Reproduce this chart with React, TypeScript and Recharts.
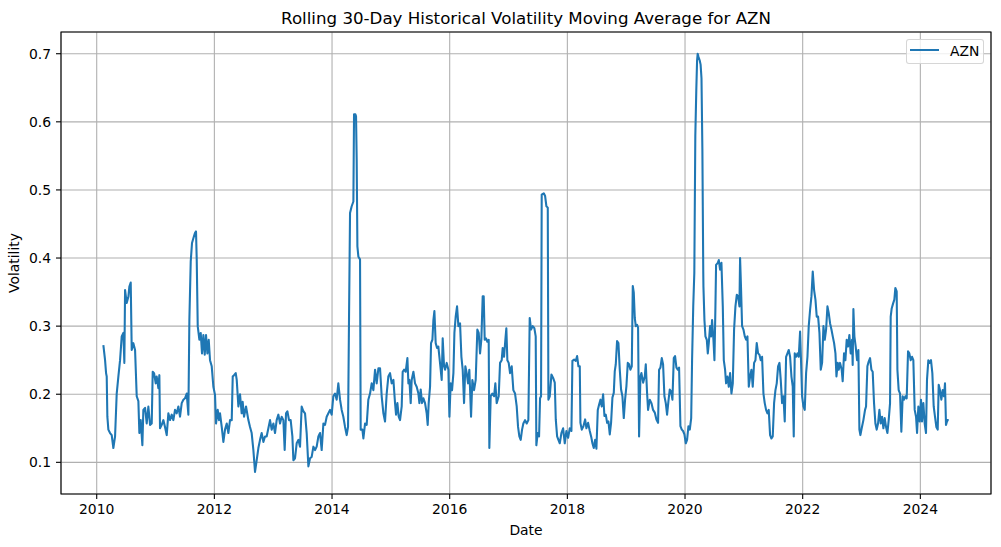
import { LineChart, Line, XAxis, YAxis, CartesianGrid, Legend, ReferenceArea, Label } from "recharts";

const FONT = "DejaVu Sans";
const BLUE = "#1f77b4";

const TITLE = "Rolling 30-Day Historical Volatility Moving Average for AZN";
const SERIES = "AZN";
const X_LABEL = "Date";
const Y_LABEL = "Volatility";

const YEAR_TICKS = [2010, 2012, 2014, 2016, 2018, 2020, 2022, 2024];
const VOL_TICKS = [0.1, 0.2, 0.3, 0.4, 0.5, 0.6, 0.7];
const X_DOMAIN: [number, number] = [2009.393, 2025.201];
const Y_DOMAIN: [number, number] = [0.0535, 0.7319];

// [decimal year, volatility]
const Y2010 = [
  [2010.113, 0.272], [2010.142, 0.25], [2010.159, 0.231], [2010.17, 0.226], [2010.181, 0.167], [2010.198, 0.148],
  [2010.227, 0.143], [2010.255, 0.14], [2010.283, 0.121], [2010.312, 0.138], [2010.34, 0.201], [2010.368, 0.226],
  [2010.397, 0.25], [2010.425, 0.285], [2010.453, 0.29], [2010.47, 0.246], [2010.482, 0.353], [2010.51, 0.334],
  [2010.538, 0.343], [2010.555, 0.358], [2010.578, 0.364], [2010.595, 0.265], [2010.623, 0.275], [2010.652, 0.265],
  [2010.68, 0.197], [2010.708, 0.19], [2010.725, 0.143], [2010.748, 0.162], [2010.776, 0.125], [2010.793, 0.177],
  [2010.822, 0.18], [2010.85, 0.157], [2010.878, 0.182], [2010.907, 0.155], [2010.935, 0.157], [2010.952, 0.233],
  [2010.975, 0.231],
];
const Y2011 = [
  [2011.003, 0.216], [2011.02, 0.226], [2011.048, 0.209], [2011.065, 0.228], [2011.076, 0.15], [2011.105, 0.155],
  [2011.133, 0.162], [2011.161, 0.152], [2011.19, 0.14], [2011.218, 0.172], [2011.246, 0.162], [2011.275, 0.17],
  [2011.303, 0.162], [2011.331, 0.177], [2011.36, 0.172], [2011.388, 0.182], [2011.416, 0.167], [2011.445, 0.187],
  [2011.473, 0.192], [2011.501, 0.194], [2011.53, 0.201], [2011.558, 0.17], [2011.575, 0.309], [2011.598, 0.395],
  [2011.62, 0.422], [2011.643, 0.429], [2011.671, 0.437], [2011.688, 0.439], [2011.7, 0.398], [2011.717, 0.3],
  [2011.745, 0.28], [2011.768, 0.29], [2011.79, 0.26], [2011.813, 0.287], [2011.836, 0.258], [2011.858, 0.287],
  [2011.881, 0.26], [2011.904, 0.28], [2011.926, 0.25], [2011.955, 0.241], [2011.983, 0.211],
];
const Y2012 = [
  [2012.011, 0.199], [2012.028, 0.157], [2012.057, 0.177], [2012.079, 0.162], [2012.096, 0.172], [2012.125, 0.152],
  [2012.153, 0.13], [2012.181, 0.148], [2012.21, 0.157], [2012.238, 0.143], [2012.266, 0.162], [2012.295, 0.162],
  [2012.312, 0.226], [2012.334, 0.228], [2012.363, 0.231], [2012.38, 0.221], [2012.408, 0.182], [2012.436, 0.2],
  [2012.464, 0.172], [2012.481, 0.189], [2012.504, 0.167], [2012.538, 0.182], [2012.578, 0.162], [2012.606, 0.152],
  [2012.634, 0.143], [2012.663, 0.118], [2012.691, 0.086], [2012.719, 0.103], [2012.748, 0.121], [2012.776, 0.133],
  [2012.804, 0.143], [2012.833, 0.13], [2012.861, 0.138], [2012.889, 0.138], [2012.918, 0.15], [2012.946, 0.162],
  [2012.974, 0.148],
];
const Y2013 = [
  [2013.003, 0.157], [2013.031, 0.143], [2013.059, 0.162], [2013.088, 0.17], [2013.116, 0.157], [2013.144, 0.167],
  [2013.173, 0.162], [2013.195, 0.118], [2013.218, 0.172], [2013.241, 0.175], [2013.269, 0.162], [2013.297, 0.162],
  [2013.326, 0.138], [2013.343, 0.103], [2013.371, 0.106], [2013.399, 0.128], [2013.428, 0.133], [2013.456, 0.123],
  [2013.484, 0.182], [2013.513, 0.175], [2013.541, 0.172], [2013.569, 0.143], [2013.598, 0.094], [2013.626, 0.106],
  [2013.654, 0.108], [2013.683, 0.123], [2013.711, 0.118], [2013.739, 0.123], [2013.768, 0.138], [2013.796, 0.143],
  [2013.824, 0.118], [2013.853, 0.157], [2013.881, 0.155], [2013.909, 0.167], [2013.938, 0.172], [2013.966, 0.177],
  [2013.994, 0.17],
];
const Y2014 = [
  [2014.022, 0.197], [2014.051, 0.201], [2014.079, 0.192], [2014.107, 0.216], [2014.136, 0.192], [2014.164, 0.177],
  [2014.192, 0.167], [2014.221, 0.152], [2014.249, 0.14], [2014.272, 0.152], [2014.289, 0.314], [2014.306, 0.466],
  [2014.334, 0.476], [2014.363, 0.483], [2014.374, 0.611], [2014.397, 0.611], [2014.408, 0.608], [2014.419, 0.545],
  [2014.431, 0.417], [2014.448, 0.402], [2014.476, 0.398], [2014.487, 0.148], [2014.516, 0.148], [2014.533, 0.135],
  [2014.561, 0.157], [2014.589, 0.155], [2014.617, 0.192], [2014.646, 0.201], [2014.674, 0.216], [2014.703, 0.206],
  [2014.731, 0.236], [2014.759, 0.216], [2014.788, 0.238], [2014.816, 0.238], [2014.844, 0.197], [2014.873, 0.172],
  [2014.901, 0.16], [2014.929, 0.201], [2014.957, 0.226], [2014.986, 0.231],
];
const Y2015 = [
  [2015.014, 0.216], [2015.043, 0.221], [2015.071, 0.187], [2015.088, 0.17], [2015.111, 0.187], [2015.133, 0.167],
  [2015.156, 0.162], [2015.184, 0.182], [2015.201, 0.233], [2015.224, 0.236], [2015.252, 0.233], [2015.281, 0.253],
  [2015.298, 0.216], [2015.315, 0.221], [2015.337, 0.187], [2015.354, 0.221], [2015.383, 0.233], [2015.411, 0.216],
  [2015.439, 0.211], [2015.468, 0.201], [2015.485, 0.187], [2015.507, 0.207], [2015.53, 0.187], [2015.553, 0.194],
  [2015.581, 0.187], [2015.609, 0.172], [2015.626, 0.155], [2015.643, 0.187], [2015.666, 0.211], [2015.683, 0.275],
  [2015.706, 0.28], [2015.723, 0.309], [2015.74, 0.322], [2015.762, 0.275], [2015.785, 0.268], [2015.807, 0.27],
  [2015.825, 0.255], [2015.847, 0.236], [2015.864, 0.221], [2015.881, 0.282], [2015.904, 0.241], [2015.921, 0.236],
  [2015.949, 0.246], [2015.978, 0.236], [2015.995, 0.167],
];
const Y2016 = [
  [2016.017, 0.216], [2016.04, 0.206], [2016.063, 0.231], [2016.08, 0.29], [2016.102, 0.314], [2016.125, 0.329],
  [2016.148, 0.3], [2016.176, 0.304], [2016.199, 0.255], [2016.221, 0.236], [2016.244, 0.187], [2016.266, 0.241],
  [2016.289, 0.231], [2016.312, 0.216], [2016.334, 0.236], [2016.363, 0.167], [2016.385, 0.221], [2016.414, 0.206],
  [2016.442, 0.221], [2016.47, 0.295], [2016.493, 0.29], [2016.516, 0.26], [2016.538, 0.28], [2016.561, 0.344],
  [2016.578, 0.344], [2016.595, 0.28], [2016.618, 0.282], [2016.64, 0.277], [2016.663, 0.28], [2016.674, 0.121],
  [2016.697, 0.197], [2016.725, 0.201], [2016.754, 0.197], [2016.776, 0.216], [2016.799, 0.187], [2016.833, 0.197],
  [2016.856, 0.246], [2016.884, 0.25], [2016.901, 0.268], [2016.924, 0.255], [2016.946, 0.28], [2016.963, 0.297],
  [2016.98, 0.25],
];
const Y2017 = [
  [2017.003, 0.246], [2017.026, 0.231], [2017.054, 0.241], [2017.082, 0.206], [2017.111, 0.201], [2017.139, 0.182],
  [2017.162, 0.152], [2017.184, 0.138], [2017.207, 0.133], [2017.23, 0.148], [2017.252, 0.157], [2017.281, 0.162],
  [2017.309, 0.157], [2017.337, 0.162], [2017.36, 0.312], [2017.383, 0.295], [2017.411, 0.3], [2017.439, 0.297],
  [2017.462, 0.285], [2017.473, 0.125], [2017.496, 0.143], [2017.519, 0.138], [2017.536, 0.194], [2017.553, 0.197],
  [2017.564, 0.493], [2017.599, 0.495], [2017.622, 0.491], [2017.644, 0.476], [2017.667, 0.474], [2017.678, 0.192],
  [2017.701, 0.197], [2017.729, 0.229], [2017.758, 0.224], [2017.786, 0.217], [2017.803, 0.163], [2017.826, 0.138],
  [2017.848, 0.133], [2017.871, 0.128], [2017.899, 0.143], [2017.928, 0.15], [2017.956, 0.128], [2017.984, 0.146],
];
const Y2018 = [
  [2018.013, 0.136], [2018.041, 0.15], [2018.069, 0.146], [2018.086, 0.249], [2018.115, 0.251], [2018.143, 0.249],
  [2018.166, 0.256], [2018.188, 0.241], [2018.211, 0.241], [2018.222, 0.158], [2018.245, 0.148], [2018.273, 0.153],
  [2018.302, 0.163], [2018.324, 0.15], [2018.353, 0.158], [2018.381, 0.146], [2018.409, 0.136], [2018.426, 0.128],
  [2018.449, 0.121], [2018.472, 0.133], [2018.494, 0.12], [2018.517, 0.177], [2018.54, 0.185], [2018.562, 0.192],
  [2018.585, 0.182], [2018.608, 0.2], [2018.63, 0.168], [2018.653, 0.17], [2018.676, 0.158], [2018.698, 0.16],
  [2018.721, 0.141], [2018.743, 0.158], [2018.766, 0.195], [2018.789, 0.202], [2018.806, 0.234], [2018.823, 0.244],
  [2018.845, 0.278], [2018.868, 0.275], [2018.891, 0.236], [2018.913, 0.207], [2018.936, 0.197], [2018.959, 0.165],
  [2018.981, 0.192],
];
const Y2019 = [
  [2019.004, 0.212], [2019.027, 0.246], [2019.049, 0.244], [2019.072, 0.236], [2019.095, 0.241], [2019.112, 0.359],
  [2019.129, 0.349], [2019.146, 0.312], [2019.163, 0.3], [2019.185, 0.302], [2019.202, 0.298], [2019.219, 0.138],
  [2019.242, 0.226], [2019.259, 0.231], [2019.288, 0.217], [2019.316, 0.226], [2019.333, 0.244], [2019.355, 0.202],
  [2019.372, 0.177], [2019.401, 0.192], [2019.429, 0.187], [2019.457, 0.177], [2019.486, 0.173], [2019.514, 0.163],
  [2019.542, 0.158], [2019.559, 0.236], [2019.582, 0.239], [2019.605, 0.253], [2019.627, 0.244], [2019.65, 0.197],
  [2019.673, 0.187], [2019.695, 0.17], [2019.718, 0.19], [2019.741, 0.207], [2019.763, 0.204], [2019.786, 0.192],
  [2019.809, 0.253], [2019.831, 0.256], [2019.854, 0.239], [2019.877, 0.236], [2019.899, 0.239], [2019.922, 0.153],
  [2019.945, 0.148], [2019.967, 0.146], [2019.99, 0.141],
];
const Y2020 = [
  [2020.013, 0.128], [2020.035, 0.133], [2020.058, 0.153], [2020.081, 0.148], [2020.105, 0.165], [2020.12, 0.25],
  [2020.14, 0.33], [2020.158, 0.378], [2020.175, 0.58], [2020.192, 0.648], [2020.205, 0.69], [2020.215, 0.7],
  [2020.23, 0.695], [2020.25, 0.69], [2020.265, 0.684], [2020.28, 0.664], [2020.295, 0.56], [2020.31, 0.38],
  [2020.313, 0.358], [2020.33, 0.309], [2020.347, 0.285], [2020.37, 0.28], [2020.387, 0.26], [2020.404, 0.275],
  [2020.426, 0.3], [2020.443, 0.285], [2020.46, 0.309], [2020.483, 0.28], [2020.5, 0.25], [2020.517, 0.329],
  [2020.528, 0.39], [2020.557, 0.393], [2020.574, 0.397], [2020.596, 0.383], [2020.619, 0.393], [2020.642, 0.329],
  [2020.659, 0.25], [2020.681, 0.236], [2020.698, 0.216], [2020.721, 0.226], [2020.744, 0.211], [2020.766, 0.231],
  [2020.789, 0.201], [2020.812, 0.216], [2020.834, 0.295], [2020.857, 0.329], [2020.88, 0.346], [2020.902, 0.344],
  [2020.925, 0.329], [2020.936, 0.4], [2020.953, 0.353], [2020.97, 0.3], [2020.993, 0.295],
];
const Y2021 = [
  [2021.016, 0.285], [2021.038, 0.28], [2021.061, 0.285], [2021.084, 0.211], [2021.106, 0.226], [2021.129, 0.236],
  [2021.151, 0.211], [2021.174, 0.246], [2021.197, 0.25], [2021.219, 0.275], [2021.242, 0.26], [2021.265, 0.258],
  [2021.287, 0.25], [2021.31, 0.255], [2021.333, 0.201], [2021.355, 0.187], [2021.378, 0.177], [2021.401, 0.172],
  [2021.423, 0.177], [2021.446, 0.14], [2021.469, 0.135], [2021.491, 0.138], [2021.514, 0.187], [2021.537, 0.206],
  [2021.559, 0.216], [2021.582, 0.241], [2021.605, 0.246], [2021.627, 0.221], [2021.65, 0.187], [2021.673, 0.197],
  [2021.695, 0.16], [2021.718, 0.255], [2021.741, 0.26], [2021.763, 0.265], [2021.786, 0.255], [2021.809, 0.226],
  [2021.831, 0.211], [2021.848, 0.138], [2021.865, 0.26], [2021.888, 0.255], [2021.911, 0.26], [2021.933, 0.255],
  [2021.956, 0.292], [2021.973, 0.246], [2021.99, 0.197],
];
const Y2022 = [
  [2022.013, 0.182], [2022.035, 0.177], [2022.058, 0.231], [2022.081, 0.255], [2022.103, 0.3], [2022.126, 0.324],
  [2022.149, 0.344], [2022.171, 0.38], [2022.194, 0.353], [2022.217, 0.339], [2022.239, 0.314], [2022.262, 0.314],
  [2022.285, 0.29], [2022.307, 0.236], [2022.33, 0.246], [2022.353, 0.3], [2022.375, 0.28], [2022.398, 0.295],
  [2022.421, 0.329], [2022.443, 0.319], [2022.466, 0.304], [2022.489, 0.295], [2022.511, 0.285], [2022.534, 0.275],
  [2022.557, 0.26], [2022.574, 0.226], [2022.596, 0.246], [2022.613, 0.236], [2022.635, 0.246], [2022.663, 0.236],
  [2022.68, 0.219], [2022.703, 0.26], [2022.726, 0.25], [2022.748, 0.28], [2022.771, 0.27], [2022.794, 0.287],
  [2022.816, 0.26], [2022.839, 0.28], [2022.85, 0.243], [2022.862, 0.325], [2022.879, 0.285], [2022.901, 0.27],
  [2022.924, 0.25], [2022.947, 0.265], [2022.964, 0.148], [2022.981, 0.14],
];
const Y2023 = [
  [2023.003, 0.15], [2023.032, 0.162], [2023.06, 0.177], [2023.077, 0.182], [2023.1, 0.241], [2023.122, 0.248],
  [2023.145, 0.253], [2023.168, 0.236], [2023.19, 0.233], [2023.213, 0.187], [2023.236, 0.157], [2023.258, 0.148],
  [2023.281, 0.157], [2023.304, 0.177], [2023.326, 0.157], [2023.349, 0.167], [2023.372, 0.15], [2023.394, 0.165],
  [2023.417, 0.152], [2023.44, 0.143], [2023.462, 0.162], [2023.485, 0.187], [2023.496, 0.314], [2023.513, 0.326],
  [2023.536, 0.333], [2023.558, 0.339], [2023.575, 0.356], [2023.598, 0.351], [2023.61, 0.236], [2023.632, 0.206],
  [2023.655, 0.201], [2023.677, 0.145], [2023.7, 0.197], [2023.723, 0.192], [2023.745, 0.197], [2023.768, 0.194],
  [2023.791, 0.263], [2023.813, 0.26], [2023.836, 0.25], [2023.859, 0.255], [2023.881, 0.25], [2023.904, 0.177],
  [2023.927, 0.167], [2023.944, 0.143], [2023.966, 0.182], [2023.989, 0.16],
];
const Y2024 = [
  [2024.011, 0.192], [2024.028, 0.16], [2024.051, 0.187], [2024.074, 0.157], [2024.096, 0.143], [2024.113, 0.221],
  [2024.136, 0.25], [2024.159, 0.246], [2024.181, 0.25], [2024.204, 0.231], [2024.227, 0.182], [2024.249, 0.167],
  [2024.272, 0.152], [2024.295, 0.148], [2024.312, 0.214], [2024.334, 0.206], [2024.357, 0.192], [2024.38, 0.206],
  [2024.402, 0.197], [2024.419, 0.216], [2024.436, 0.155], [2024.459, 0.162], [2024.482, 0.162],
];

const data = [
  ...Y2010, ...Y2011, ...Y2012, ...Y2013, ...Y2014, ...Y2015, ...Y2016, ...Y2017,
  ...Y2018, ...Y2019, ...Y2020, ...Y2021, ...Y2022, ...Y2023, ...Y2024,
].map(([t, v]) => ({ t, [SERIES]: v }));

const tickStyle = { fill: "#000", fontSize: 13.9, fontFamily: FONT };

function LegendBox({ payload }: any) {
  const item = payload && payload[0];
  const color = item?.color ?? BLUE;
  const name = item?.value ?? SERIES;
  return (
    <div
      style={{
        position: "relative",
        width: 78,
        height: 25,
        boxSizing: "border-box",
        border: "1px solid rgba(204,204,204,0.8)",
        borderRadius: 3,
        background: "rgba(255,255,255,0.8)",
        fontFamily: FONT,
        fontSize: 13.9,
      }}
    >
      <div style={{ position: "absolute", left: 3, top: 9, width: 29, borderTop: `2px solid ${color}` }} />
      <span style={{ position: "absolute", left: 43, top: 3, lineHeight: "16.2px", color: "#000", whiteSpace: "nowrap" }}>
        {name}
      </span>
    </div>
  );
}

export default function App() {
  return (
    <div style={{ position: "absolute", left: 0, top: 0, width: 1001, height: 547, background: "#fff" }}>
      <LineChart
        width={1001}
        height={547}
        data={data}
        margin={{ top: 32, right: 10, bottom: 0, left: 0 }}
        style={{ fontFamily: FONT }}
      >
        <CartesianGrid stroke="#b0b0b0" strokeWidth={1.1} />
        <XAxis
          dataKey="t"
          type="number"
          scale="linear"
          domain={X_DOMAIN}
          allowDataOverflow
          ticks={YEAR_TICKS}
          tickFormatter={(v) => String(Math.round(v))}
          height={53}
          axisLine={false}
          tickLine={{ stroke: "#000", strokeWidth: 1.1 }}
          tickSize={5}
          tickMargin={5}
          tick={tickStyle}
          interval={0}
        >
          <Label value={X_LABEL} position="insideBottom" offset={12} fill="#000" fontSize={13.9} fontFamily={FONT} />
        </XAxis>
        <YAxis
          type="number"
          domain={Y_DOMAIN}
          allowDataOverflow
          ticks={VOL_TICKS}
          tickFormatter={(v) => v.toFixed(1)}
          width={61}
          axisLine={false}
          tickLine={{ stroke: "#000", strokeWidth: 1.1 }}
          tickSize={5}
          tickMargin={5}
          tick={tickStyle}
          interval={0}
        >
          <Label
            content={() => (
              <text
                transform="translate(19.3,263) rotate(-90)"
                textAnchor="middle"
                fill="#000"
                fontSize={13.9}
                fontFamily={FONT}
              >
                {Y_LABEL}
              </text>
            )}
          />
        </YAxis>
        <ReferenceArea
          x1={X_DOMAIN[0]}
          x2={X_DOMAIN[1]}
          y1={Y_DOMAIN[0]}
          y2={Y_DOMAIN[1]}
          fill="none"
          fillOpacity={0}
          stroke="#000"
          strokeWidth={1.1}
          ifOverflow="visible"
        />
        <Legend
          layout="horizontal"
          verticalAlign="middle"
          align="center"
          wrapperStyle={{ left: 906, top: 39, width: 78, height: 25 }}
          content={(p: any) => <LegendBox {...p} />}
        />
        <Line
          type="linear"
          dataKey={SERIES}
          name={SERIES}
          stroke={BLUE}
          strokeWidth={2.08}
          strokeLinejoin="round"
          strokeLinecap="butt"
          dot={false}
          activeDot={false}
          isAnimationActive={false}
        />
      </LineChart>
      <svg width={1001} height={40} style={{ position: "absolute", left: 0, top: 0, pointerEvents: "none" }}>
        <text x={526} y={23.7} textAnchor="middle" fill="#000" fontSize={16.67} fontFamily={FONT}>
          {TITLE}
        </text>
      </svg>
    </div>
  );
}
